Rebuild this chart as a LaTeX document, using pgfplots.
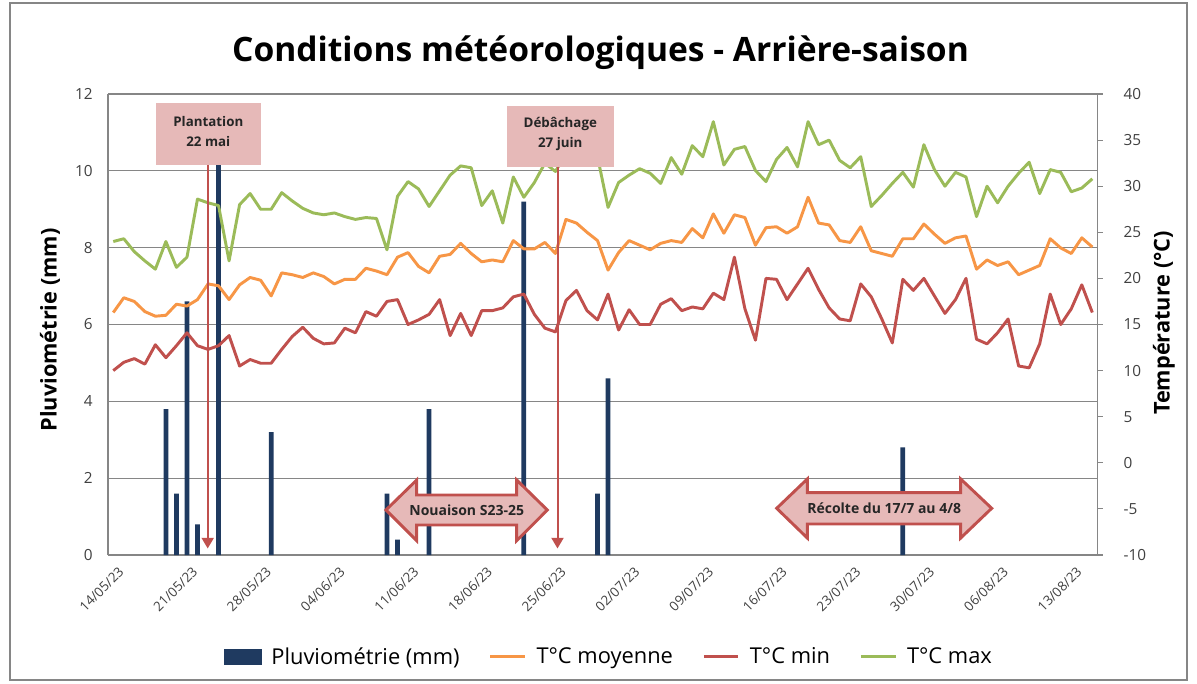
\documentclass[border=0pt]{standalone}
\usepackage{fontspec}
\setmainfont{Open Sans}
\usepackage{pgfplots}
\pgfplotsset{compat=1.18}
\usepackage{pgfplotstable}
\usetikzlibrary{arrows.meta}
\definecolor{navy}{HTML}{1F3A60}
\definecolor{cmoy}{HTML}{F79646}
\definecolor{cmin}{HTML}{C0504D}
\definecolor{cmax}{HTML}{9BBB59}
\definecolor{gridgray}{HTML}{868686}
\definecolor{ticktext}{HTML}{404040}
\definecolor{pinkfill}{HTML}{E6B9B8}
\definecolor{redline}{HTML}{C0504D}

\pgfplotstableread{
d tmax tmoy tmin
0 24.0 16.3 10.0
1 24.3 17.9 10.9
2 22.9 17.5 11.3
3 21.9 16.4 10.7
4 21.0 15.9 12.8
5 24.0 16.0 11.4
6 21.2 17.2 12.7
7 22.3 17.0 14.1
8 28.6 17.7 12.7
9 28.2 19.4 12.3
10 27.9 19.2 12.7
11 21.9 17.7 13.8
12 28.0 19.3 10.5
13 29.2 20.1 11.2
14 27.5 19.8 10.8
15 27.5 18.1 10.8
16 29.3 20.6 12.3
17 28.4 20.4 13.7
18 27.6 20.1 14.7
19 27.1 20.6 13.5
20 26.9 20.2 12.9
21 27.1 19.4 13.0
22 26.7 19.9 14.6
23 26.4 19.9 14.1
24 26.6 21.1 16.4
25 26.5 20.8 15.9
26 23.1 20.4 17.5
27 28.9 22.3 17.7
28 30.5 22.8 15.0
29 29.7 21.3 15.5
30 27.8 20.6 16.1
31 29.5 22.4 17.7
32 31.2 22.6 13.8
33 32.2 23.8 16.2
34 32.0 22.7 13.8
35 27.9 21.8 16.5
36 29.5 22.0 16.5
37 26.0 21.8 16.8
38 31.0 24.1 18.0
39 28.8 23.2 18.3
40 30.4 23.2 16.1
41 32.5 23.9 14.6
42 31.6 22.7 14.2
43 33.5 26.4 17.6
44 34.5 26.0 18.7
45 34.0 25.0 16.5
46 33.2 24.1 15.5
47 27.7 20.9 18.3
48 30.4 22.8 14.4
49 31.2 24.1 16.6
50 31.9 23.6 15.0
51 31.4 23.1 15.0
52 30.3 23.8 17.2
53 33.1 24.1 17.8
54 31.3 23.9 16.5
55 34.4 25.4 16.9
56 33.2 24.4 16.7
57 37.0 27.0 18.4
58 32.3 24.9 17.7
59 34.0 26.9 22.3
60 34.3 26.6 16.7
61 31.7 23.6 13.3
62 30.5 25.5 20.0
63 32.9 25.6 19.9
64 34.2 24.9 17.7
65 32.1 25.6 19.4
66 37.0 28.8 21.1
67 34.5 26.0 18.8
68 35.0 25.8 16.8
69 32.8 24.1 15.6
70 32.0 23.9 15.4
71 33.2 25.6 19.4
72 27.8 23.0 18.0
73 29.0 22.7 15.6
74 30.3 22.4 13.0
75 31.5 24.3 19.9
76 29.9 24.3 18.7
77 34.5 25.9 20.0
78 31.8 24.8 18.1
79 30.0 23.8 16.2
80 31.5 24.4 17.7
81 31.0 24.6 20.0
82 26.7 21.0 13.4
83 30.0 22.0 12.9
84 28.2 21.4 14.1
85 30.0 21.8 15.6
86 31.4 20.4 10.5
87 32.6 20.9 10.3
88 29.2 21.4 12.9
89 31.8 24.3 18.3
90 31.5 23.3 15.0
91 29.4 22.7 16.7
92 29.8 24.4 19.3
93 30.8 23.4 16.3
}\temps

\pgfplotstableread{
d p
5 3.8
6 1.6
7 6.6
8 0.8
10 11.4
15 3.2
26 1.6
27 0.4
30 3.8
39 9.2
46 1.6
47 4.6
75 2.8
}\pluie

\begin{document}
\begin{tikzpicture}
\useasboundingbox (0,0) rectangle (897.75pt,512.25pt);
\fill[white] (0,0) rectangle (897.75pt,512.25pt);
\begin{axis}[
  at={(81pt,96pt)}, anchor=south west, scale only axis,
  width=742.2pt, height=345.75pt,
  xmin=-0.5, xmax=93.5, ymin=0, ymax=12,
  ytick={0,2,...,12},
  axis y line*=left, axis x line*=bottom,
  axis line style={-, draw=gridgray, line width=0.8pt},
  ymajorgrids, grid style={gridgray, line width=0.8pt},
  xtick={0,7,...,91},
  xticklabels={14/05/23,21/05/23,28/05/23,04/06/23,11/06/23,18/06/23,25/06/23,02/07/23,09/07/23,16/07/23,23/07/23,30/07/23,06/08/23,13/08/23},
  major tick length=0pt,
  /pgf/number format/assume math mode=true,
  xticklabel style={rotate=45, anchor=east, font=\fontsize{10}{12}\selectfont, text=ticktext, xshift=0pt, yshift=-12pt},
  yticklabel style={font=\fontsize{11.5}{13}\selectfont, text=ticktext, xshift=-8pt},
]
\addplot[ybar, bar width=0.45, fill=navy, draw=none] table[x=d,y=p]{\pluie};
\end{axis}
\begin{axis}[
  at={(81pt,96pt)}, anchor=south west, scale only axis,
  width=742.2pt, height=345.75pt,
  xmin=-0.5, xmax=93.5, ymin=-10, ymax=40,
  ytick={-10,-5,...,40},
  axis y line*=right, axis x line=none,
  axis line style={-, draw=gridgray, line width=0.8pt},
  tick align=outside, major tick length=4pt,
  ytick style={draw=gridgray, line width=0.8pt},
  /pgf/number format/assume math mode=true,
  yticklabel style={font=\fontsize{11.5}{13}\selectfont, text=ticktext, xshift=12pt},
  legend style={draw=none, fill=none, legend columns=-1, at={(0.505,-0.221)}, anchor=center,
    font=\fontsize{16.4}{18}\selectfont, nodes={inner sep=0pt},
    /tikz/every odd column/.append style={column sep=7.5pt},
    /tikz/every even column/.append style={column sep=22pt}},
  legend image code/.code={\draw[#1] (0pt,0pt) -- (26pt,0pt);},
]
\addlegendimage{legend image code/.code={\fill[navy] (0pt,-5.5pt) rectangle (28pt,5.5pt);}}
\addlegendentry{Pluviométrie (mm)}
\addplot[cmoy, line width=2.2pt, line join=round] table[x=d,y=tmoy]{\temps};
\addlegendentry{T°C moyenne}
\addplot[cmin, line width=2.2pt, line join=round] table[x=d,y=tmin]{\temps};
\addlegendentry{T°C min}
\addplot[cmax, line width=2.2pt, line join=round] table[x=d,y=tmax]{\temps};
\addlegendentry{T°C max}
\end{axis}
\begin{scope}[x=0.75pt, y=-0.75pt, shift={(0pt,512.25pt)}]
  % frame
  \draw[gridgray, line width=0.9pt] (10,3) rectangle (1187,680);
  % title
  \node[anchor=base, font=\bfseries\fontsize{25.2}{28}\selectfont] at (600.5,62) {Conditions météorologiques - Arrière-saison};
  % axis titles
  \node[rotate=90, font=\bfseries\fontsize{16.3}{18}\selectfont] at (50,330) {Pluviométrie (mm)};
  \node[rotate=90, font=\bfseries\fontsize{16.3}{18}\selectfont] at (1164,323) {Température (°C)};
  % Plantation
  \fill[pinkfill] (156,103.3) rectangle (260.7,165);
  \node[align=center, font=\bfseries\fontsize{10}{15}\selectfont, text=black!85] at (208.3,132) {Plantation\\22 mai};
  \draw[redline, line width=1.5pt, -{Triangle[length=8pt,width=9pt]}] (207.7,165) -- (207.7,548.5);
  % Debachage
  \fill[pinkfill] (506.7,106) rectangle (614,166.7);
  \node[align=center, font=\bfseries\fontsize{10}{15}\selectfont, text=black!85] at (560.3,133.5) {Débâchage\\27 juin};
  \draw[redline, line width=1.5pt, -{Triangle[length=8pt,width=9pt]}] (557.5,166.7) -- (557.5,548.5);
  % Nouaison
  \draw[redline, fill=pinkfill, line width=2.2pt, line join=miter] (386,510) -- (416.7,480) -- (416.7,495) -- (516.7,495) -- (516.7,480) -- (547.3,510) -- (516.7,540.7) -- (516.7,525) -- (416.7,525) -- (416.7,540.7) -- cycle;
  \node[font=\bfseries\fontsize{10.5}{12}\selectfont, text=black!85] at (466.7,510) {Nouaison S23-25};
  % Recolte
  \draw[redline, fill=pinkfill, line width=2.2pt, line join=miter] (776.7,508.3) -- (807.3,479) -- (807.3,492.7) -- (960.7,492.7) -- (960.7,479) -- (991.7,508.3) -- (960.7,538) -- (960.7,524) -- (807.3,524) -- (807.3,538) -- cycle;
  \node[font=\bfseries\fontsize{10.5}{12}\selectfont, text=black!85] at (884.2,508.3) {Récolte du 17/7 au 4/8};
\end{scope}
\end{tikzpicture}
\end{document}
